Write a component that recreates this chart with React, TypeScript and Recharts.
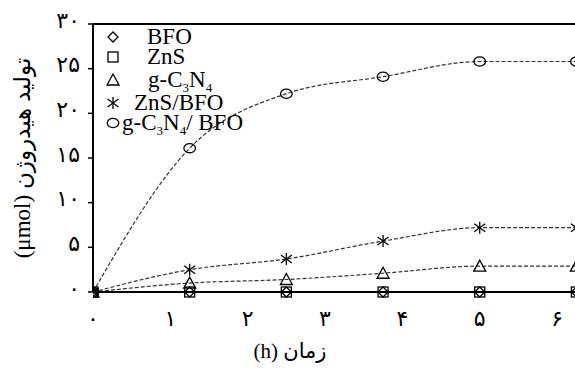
import React from 'react';
import { LineChart, Line, XAxis, YAxis, ReferenceLine, Legend } from 'recharts';

const hours = [0, 1.25, 2.5, 3.75, 5, 6.25];
const bfoValues = [0, 0, 0, 0, 0, 0];
const znsValues = [0, 0, 0, 0, 0, 0];
const gcnValues = [0, 1.0, 1.4, 2.1, 2.9, 2.9];
const znsBfoValues = [0, 2.5, 3.7, 5.7, 7.2, 7.2];
const gcnBfoValues = [0, 16.1, 22.2, 24.1, 25.8, 25.8];
const xTicks = [0, 1, 2, 3, 4, 5, 6];
const yTicks = [0, 5, 10, 15, 20, 25, 30];
const xTitle = 'زمان (h)';
const yTitle = 'تولید هیدروژن (μmol)';

const data = hours.map((h, i) => ({
  h,
  bfo: bfoValues[i],
  zns: znsValues[i],
  gcn: gcnValues[i],
  znsBfo: znsBfoValues[i],
  gcnBfo: gcnBfoValues[i],
}));

const SERIF = "'Liberation Serif', 'DejaVu Sans', serif";
const toPersian = (n: number) => String(n).replace(/\d/g, (d) => '۰۱۲۳۴۵۶۷۸۹'[+d]);

const Marker = ({ cx, cy, shape }: { cx: number; cy: number; shape: string }) => {
  const st = { fill: 'none', stroke: '#000', strokeWidth: 1.3 };
  if (cx == null || cy == null) return null;
  switch (shape) {
    case 'diamond':
      return <polygon points={`${cx},${cy - 5} ${cx + 5},${cy} ${cx},${cy + 5} ${cx - 5},${cy}`} {...st} />;
    case 'square':
      return <rect x={cx - 5} y={cy - 5} width={10} height={10} {...st} />;
    case 'triangle':
      return <polygon points={`${cx},${cy - 6} ${cx + 6},${cy + 5} ${cx - 6},${cy + 5}`} {...st} />;
    case 'star':
      return (
        <g {...st}>
          <line x1={cx} y1={cy - 6} x2={cx} y2={cy + 6} />
          <line x1={cx - 5.5} y1={cy - 4} x2={cx + 5.5} y2={cy + 4} />
          <line x1={cx - 5.5} y1={cy + 4} x2={cx + 5.5} y2={cy - 4} />
        </g>
      );
    default:
      return <ellipse cx={cx} cy={cy} rx={5.8} ry={4.6} {...st} />;
  }
};

const makeDot = (shape: string) => (props: any) => (
  <Marker key={`${shape}-${props.index}`} cx={props.cx} cy={props.cy} shape={shape} />
);

const Sub = ({ children }: { children: React.ReactNode }) => (
  <tspan fontSize={13} dy={5}>{children}</tspan>
);

const legendRows = [
  { shape: 'diamond', tx: 47, label: <>BFO</> },
  { shape: 'square', tx: 47, label: <>ZnS</> },
  { shape: 'triangle', tx: 48, label: <>g-C<Sub>3</Sub><tspan dy={-5}>N</tspan><Sub>4</Sub></> },
  { shape: 'star', tx: 34, label: <>ZnS/BFO</> },
  { shape: 'circle', tx: 22, label: <>g-C<Sub>3</Sub><tspan dy={-5}>N</tspan><Sub>4</Sub><tspan dy={-5}>/  BFO</tspan></> },
];
const rowY = [11, 31, 54, 77, 97];

const LegendBox = () => (
  <svg width={180} height={115} style={{ overflow: 'visible' }}>
    {legendRows.map((r, i) => (
      <g key={i}>
        <Marker cx={13} cy={rowY[i]} shape={r.shape} />
        <text x={r.tx} y={rowY[i] + 7} fontFamily={SERIF} fontSize={23} fill="#000">
          {r.label}
        </text>
      </g>
    ))}
  </svg>
);

export default function App() {
  return (
    <div style={{ position: 'absolute', left: 0, top: 0, width: 575, height: 369, overflow: 'hidden', background: '#fff' }}>
      <LineChart width={600} height={369} data={data} margin={{ top: 24, right: 12, bottom: 0, left: 0 }}>
        <XAxis
          dataKey="h"
          type="number"
          domain={[0, 6.4]}
          ticks={xTicks}
          allowDataOverflow
          height={77}
          tickLine={false}
          axisLine={{ stroke: '#000', strokeWidth: 2 }}
          tickMargin={12}
          tickFormatter={toPersian}
          tick={{ fill: '#000', fontSize: 22, fontFamily: SERIF }}
          label={{
            content: () => (
              <text x={290} y={358} textAnchor="middle" direction="rtl" fontFamily={SERIF} fontSize={21} fill="#000">
                {xTitle}
              </text>
            ),
          }}
        />
        <YAxis
          type="number"
          domain={[0, 30]}
          ticks={yTicks}
          width={93}
          tickSize={5}
          tickMargin={8}
          tickLine={{ stroke: '#000', strokeWidth: 1.5 }}
          axisLine={{ stroke: '#000', strokeWidth: 2 }}
          tickFormatter={toPersian}
          tick={{ fill: '#000', fontSize: 22, fontFamily: SERIF, dy: -4 }}
          label={{
            content: () => (
              <text
                x={0}
                y={0}
                transform="translate(30,158) rotate(-90)"
                textAnchor="middle"
                direction="rtl"
                fontFamily={SERIF}
                fontSize={23}
                fill="#000"
              >
                {yTitle}
              </text>
            ),
          }}
        />
        <ReferenceLine y={30} stroke="#000" strokeWidth={2} ifOverflow="extendDomain" />
        <Legend
          layout="vertical"
          align="center"
          verticalAlign="middle"
          content={() => <LegendBox />}
          wrapperStyle={{ position: 'absolute', left: 100, top: 26, width: 180, height: 115 }}
        />
        <Line dataKey="bfo" stroke="none" dot={makeDot('diamond')} isAnimationActive={false} />
        <Line dataKey="zns" stroke="none" dot={makeDot('square')} isAnimationActive={false} />
        <Line dataKey="gcn" type="monotone" stroke="#333" strokeWidth={1.2} strokeDasharray="4 2" dot={makeDot('triangle')} isAnimationActive={false} />
        <Line dataKey="znsBfo" type="monotone" stroke="#333" strokeWidth={1.2} strokeDasharray="4 2" dot={makeDot('star')} isAnimationActive={false} />
        <Line dataKey="gcnBfo" type="monotone" stroke="#333" strokeWidth={1.2} strokeDasharray="4 2" dot={makeDot('circle')} isAnimationActive={false} />
      </LineChart>
    </div>
  );
}
